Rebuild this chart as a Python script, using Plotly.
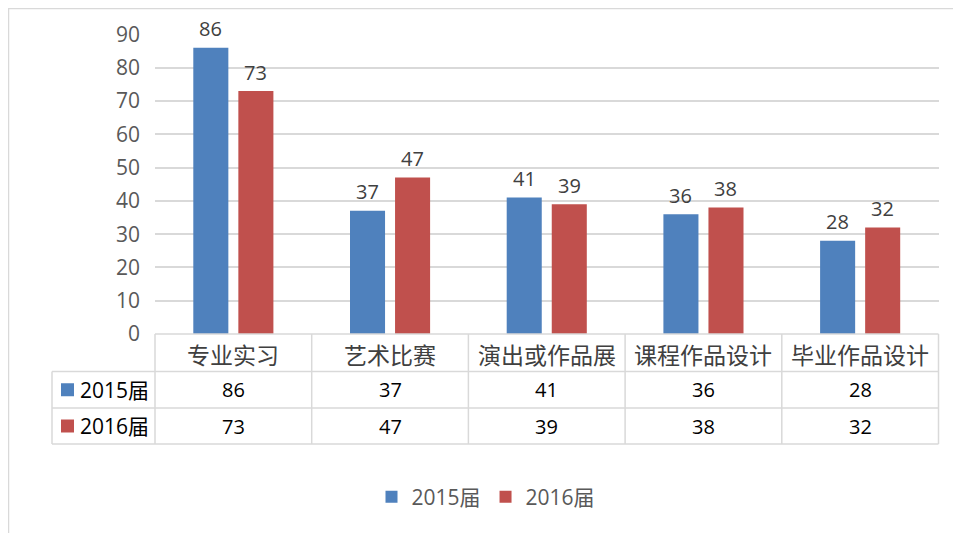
import plotly.graph_objects as go

categories = ["专业实习", "艺术比赛", "演出或作品展", "课程作品设计", "毕业作品设计"]
series_names = ["2015届", "2016届"]
values_2015 = [86, 37, 41, 36, 28]
values_2016 = [73, 47, 39, 38, 32]
colors = ["#4F81BD", "#C0504D"]
y_ticks = [0, 10, 20, 30, 40, 50, 60, 70, 80, 90]

# page is offset by the default 8px body margin
OFF = 8
W, H = 953, 525
def px(x):
    return (x - OFF) / W
def py(y):
    return 1 - (y - OFF) / H

FONT = "Open Sans, Noto Sans CJK SC, sans-serif"
CJK = "Noto Sans CJK SC, sans-serif"
plot_l, plot_r, plot_t, plot_b = 155, 938.5, 34.5, 334

fig = go.Figure()
for name, vals, col in zip(series_names, [values_2015, values_2016], colors):
    fig.add_trace(go.Bar(
        x=categories, y=vals, name=name, marker=dict(color=col, line=dict(width=0)),
    ))

shapes = []
annotations = []
line_col = "#D9D9D9"

# data labels above bars (anchored to data coordinates)
for k, (vals, xs) in enumerate(zip([values_2015, values_2016], [-22.5, 22.5])):
    for c, v in zip(categories, vals):
        annotations.append(dict(xref="x", yref="y", x=c, y=v, xshift=xs, yshift=19, text=str(v),
                                showarrow=False, xanchor="center", yanchor="middle",
                                font=dict(size=20, color="#404040", family=FONT)))

# outer chart border
shapes.append(dict(type="rect", xref="paper", yref="paper", x0=px(8.5), x1=px(1000), y0=py(600), y1=py(8.5),
                   line=dict(color=line_col, width=1.5), fillcolor="rgba(0,0,0,0)", layer="below"))

# data table geometry
row_y = [334, 371.5, 408, 444]
col_x = [plot_l + i * (plot_r - plot_l) / 5 for i in range(6)]
left_x = 52
shapes.append(dict(type="line", xref="paper", yref="paper", x0=px(plot_l), x1=px(plot_r), y0=py(row_y[0]), y1=py(row_y[0]), line=dict(color=line_col, width=1.5)))
for yy in row_y[1:]:
    shapes.append(dict(type="line", xref="paper", yref="paper", x0=px(left_x), x1=px(plot_r), y0=py(yy), y1=py(yy), line=dict(color=line_col, width=1.5)))
for xx in col_x:
    shapes.append(dict(type="line", xref="paper", yref="paper", x0=px(xx), x1=px(xx), y0=py(row_y[0]), y1=py(row_y[3]), line=dict(color=line_col, width=1.5)))
shapes.append(dict(type="line", xref="paper", yref="paper", x0=px(left_x), x1=px(left_x), y0=py(row_y[1]), y1=py(row_y[3]), line=dict(color=line_col, width=1.5)))

for i, c in enumerate(categories):
    cx = (col_x[i] + col_x[i + 1]) / 2
    annotations.append(dict(xref="paper", yref="paper", x=px(cx), y=py((row_y[0] + row_y[1]) / 2 + 1), text=c,
                            showarrow=False, xanchor="center", yanchor="middle",
                            font=dict(size=23, color="#404040", family=CJK)))
for r, (name, vals, col) in enumerate(zip(series_names, [values_2015, values_2016], colors)):
    yc = (row_y[r + 1] + row_y[r + 2]) / 2
    shapes.append(dict(type="rect", xref="paper", yref="paper", x0=px(61), x1=px(74), y0=py(yc + 6.5), y1=py(yc - 6.5),
                       fillcolor=col, line=dict(width=0)))
    annotations.append(dict(xref="paper", yref="paper", x=px(78), y=py(yc), text=name, showarrow=False,
                            xanchor="left", yanchor="middle", font=dict(size=21, color="#000000", family=FONT)))
    for i, v in enumerate(vals):
        cx = (col_x[i] + col_x[i + 1]) / 2
        annotations.append(dict(xref="paper", yref="paper", x=px(cx), y=py(yc), text=str(v), showarrow=False,
                                xanchor="center", yanchor="middle", font=dict(size=20, color="#000000", family=FONT)))

fig.update_layout(
    width=W, height=H,
    margin=dict(l=0, r=0, t=0, b=0, autoexpand=False),
    paper_bgcolor="white", plot_bgcolor="white",
    barmode="group", bargap=0.425, bargroupgap=0.222,
    font=dict(family=FONT, color="#595959"),
    xaxis=dict(domain=[px(plot_l), px(plot_r)], range=[-0.5, 4.5], showticklabels=False, showgrid=False,
               zeroline=False, showline=False, ticks="", automargin=False),
    yaxis=dict(domain=[py(plot_b), py(plot_t)], range=[0, 90], tickvals=y_ticks,
               showgrid=True, gridcolor="#D9D9D9", gridwidth=1.5, zeroline=False, showline=False, ticks="",
               tickfont=dict(size=21, color="#595959", family=FONT), ticklabelstandoff=14, automargin=False),
    showlegend=True,
    legend=dict(orientation="h", x=px(486), xanchor="center", y=py(497), yanchor="middle",
                font=dict(size=21, color="#595959", family=FONT), itemwidth=30, traceorder="normal",
                bgcolor="rgba(0,0,0,0)"),
    shapes=shapes, annotations=annotations,
)

fig.write_html("out.html")
